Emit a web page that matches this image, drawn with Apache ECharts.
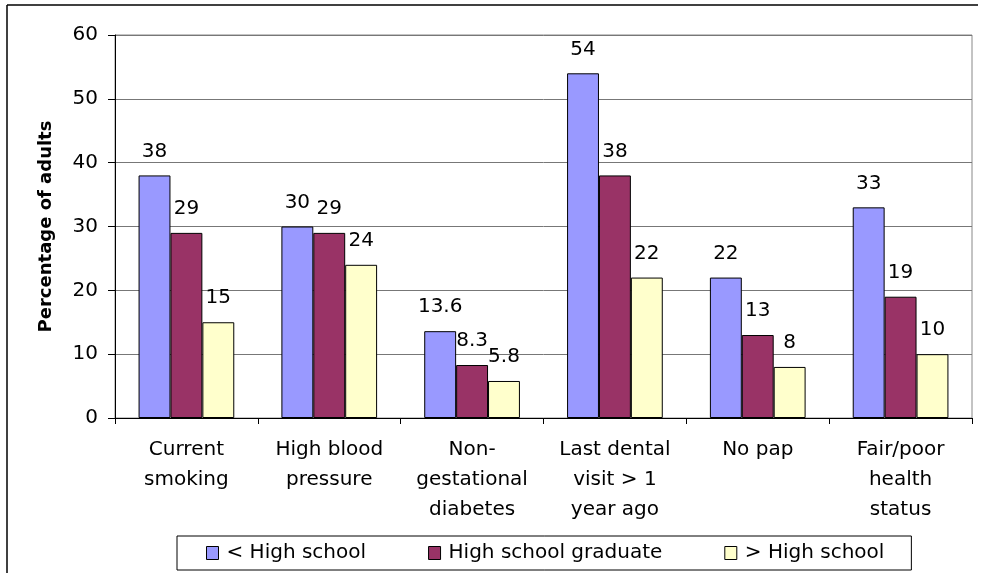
<!DOCTYPE html>
<html>
<head>
<meta charset="utf-8">
<script src="https://cdn.jsdelivr.net/npm/echarts@6/dist/echarts.min.js"></script>
<style>html,body{margin:0;padding:0;background:#fff;}#c{width:984px;height:573px;}</style>
</head>
<body>
<div id="c"></div>
<script>
var categories = ['Current\nsmoking', 'High blood\npressure', 'Non-\ngestational\ndiabetes', 'Last dental\nvisit > 1\nyear ago', 'No pap', 'Fair/poor\nhealth\nstatus'];
var seriesNames = ['< High school', 'High school graduate', '> High school'];
var lessThanHS = [38, 30, 13.6, 54, 22, 33];
var hsGraduate = [29, 29, 8.3, 38, 13, 19];
var moreThanHS = [15, 24, 5.8, 22, 8, 10];
var yTicks = [0, 10, 20, 30, 40, 50, 60];

var colors = ['#9999FF', '#993366', '#FFFFCC'];
var font = 'DejaVu Sans, Liberation Sans, Arial, sans-serif';
var chart = echarts.init(document.getElementById('c'));
function mk(name, data, i) {
  return {
    name: name, type: 'bar', data: data, barGap: '0%', barCategoryGap: '33%',
    itemStyle: { color: colors[i], borderColor: '#000', borderWidth: 1 },
    label: { show: true, position: 'top', distance: 14, color: '#000', fontSize: 20, fontFamily: font },
    emphasis: { disabled: true }
  };
}
chart.setOption({
  animation: false,
  grid: { left: 115, top: 35, right: 12, bottom: 155, show: true, borderColor: '#888', borderWidth: 1 },
  legend: {
    bottom: 3, left: 177, icon: 'rect',
    data: seriesNames, itemWidth: 12, itemHeight: 13, itemGap: 62,
    padding: [7, 27, 7, 29],
    borderColor: '#000', borderWidth: 1,
    itemStyle: { borderColor: '#000', borderWidth: 1 },
    textStyle: { color: '#000', fontSize: 20, fontFamily: font, padding: [0, 0, 0, 3] }
  },
  xAxis: {
    type: 'category', data: categories,
    axisLine: { lineStyle: { color: '#000', width: 1 } },
    axisTick: { show: true, length: 6, lineStyle: { color: '#000' } },
    axisLabel: { color: '#000', fontSize: 20, fontFamily: font, lineHeight: 30, margin: 17, interval: 0 }
  },
  yAxis: {
    type: 'value', min: yTicks[0], max: yTicks[yTicks.length - 1], interval: 10,
    name: 'Percentage of adults', nameLocation: 'middle', nameGap: 60,
    nameTextStyle: { color: '#000', fontSize: 18, fontWeight: 'bold', fontFamily: font },
    axisLine: { show: true, lineStyle: { color: '#000', width: 1 } },
    axisTick: { show: true, length: 7, lineStyle: { color: '#000' } },
    axisLabel: { color: '#000', fontSize: 20, fontFamily: font, margin: 17 },
    splitLine: { lineStyle: { color: '#777', width: 1 } }
  },
  graphic: [
    { type: 'line', shape: { x1: 7, y1: 5, x2: 978, y2: 5 }, style: { stroke: '#000', lineWidth: 1.5 } },
    { type: 'line', shape: { x1: 7, y1: 5, x2: 7, y2: 573 }, style: { stroke: '#000', lineWidth: 1.5 } }
  ],
  series: [mk(seriesNames[0], lessThanHS, 0), mk(seriesNames[1], hsGraduate, 1), mk(seriesNames[2], moreThanHS, 2)]
});
</script>
</body>
</html>
